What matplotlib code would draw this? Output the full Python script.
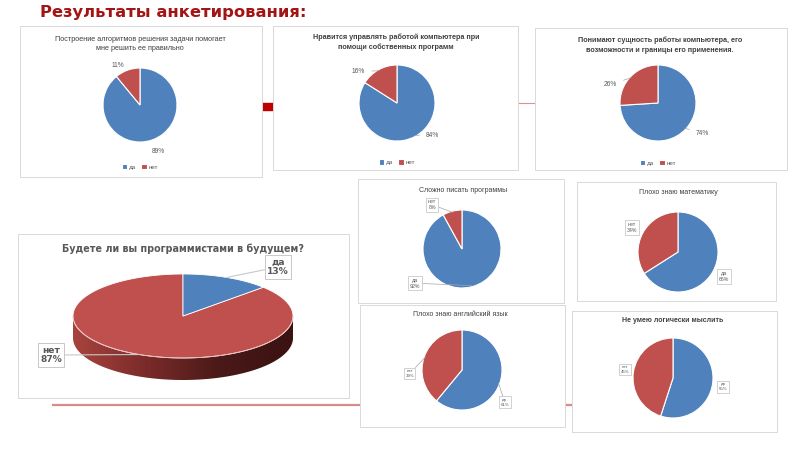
import numpy as np
import matplotlib.pyplot as plt
from matplotlib.patches import Rectangle, Polygon
from matplotlib.colors import LinearSegmentedColormap

plt.rcParams['font.family'] = ['Liberation Sans', 'DejaVu Sans']

# ---- data ----
answers = ['да', 'нет']
chart_titles = [
    'Построение алгоритмов решения задачи помогает\nмне решить ее правильно',
    'Нравится управлять работой компьютера при\nпомощи собственных программ',
    'Понимают сущность работы компьютера, его\nвозможности и границы его применения.',
    'Будете ли вы программистами в будущем?',
    'Сложно писать программы',
    'Плохо знаю математику',
    'Плохо знаю английский язык',
    'Не умею логически мыслить',
]
yes_pct = [89, 84, 74, 13, 92, 66, 61, 55]
no_pct = [11, 16, 26, 87, 8, 34, 39, 45]

# ---- layout (pixels, y down) ----
BLUE = '#4f81bd'
RED = '#c0504d'
GREY = '#595959'
W, H = 800, 450

panels = [(20, 26, 262, 177), (273, 26, 518, 170), (535, 28, 787, 170),
          (18, 234, 349, 398), (358, 179, 564, 303), (577, 182, 776, 301),
          (360, 305, 565, 427), (572, 311, 777, 432)]
pie_geo = [(140, 105, 37), (397, 103, 38), (658, 103, 38), (183, 316, 110),
           (462, 249, 39), (678, 252, 40), (462, 370, 40), (673, 378, 40)]
title_xy = [(140, 44), (396, 42), (660, 45), (183, 249),
            (463, 190), (678, 193), (460, 315), (673, 320)]
title_size = [5.2, 5.2, 5.2, 6.9, 5.0, 5.0, 5.0, 5.0]
# label polar position (angle deg, distance in radii) for да / нет
label_pos = [[(-69, 1.36), (119, 1.23)], [(-42, 1.27), (141, 1.31)],
             [(-34, 1.42), (159, 1.35)], None,
             [(216, 1.49), (124, 1.37)], [(-28, 1.31), (152, 1.30)],
             [(-37, 1.34), (184, 1.31)], [(-10, 1.27), (170, 1.22)]]
leaders = [False, True, True, True, True, False, True, False]
legend_y = [-0.34, -0.28, -0.29]

fig = plt.figure(figsize=(8, 4.5), dpi=100)
bg = fig.add_axes([0, 0, 1, 1])
bg.set_xlim(0, W)
bg.set_ylim(H, 0)
bg.axis('off')

# decorative lines of the slide
bg.add_patch(Rectangle((258, 103), 16, 7, color='#c00000', zorder=1))
bg.plot([518, 537], [103, 103], color='#e09090', lw=0.8, zorder=1)
bg.plot([53, 575], [405, 405], color='#d98a8a', lw=1.6, zorder=1)

bg.text(40, 12, 'Результаты анкетирования:', family='DejaVu Sans',
        fontweight='bold', fontsize=11.8, color='#a31515', va='center')

for (x0, y0, x1, y1) in panels:
    bg.add_patch(Rectangle((x0, y0), x1 - x0, y1 - y0, facecolor='white',
                           edgecolor='#d9d9d9', lw=0.7, zorder=2))

for i, t in enumerate(chart_titles):
    tx, ty = title_xy[i]
    if i == 3:
        bg.text(tx, ty, t, family='DejaVu Sans', fontweight='bold',
                fontsize=title_size[i], color=GREY, ha='center', va='center', zorder=5)
    else:
        bg.text(tx, ty, t, fontsize=title_size[i], color='#404040', ha='center',
                va='center', linespacing=1.5, zorder=5,
                fontweight='bold' if i in (1, 2, 7) else 'normal')

# ---- flat pies ----
for i in range(8):
    if i == 3:
        continue
    cx, cy, r = pie_geo[i]
    ax = fig.add_axes([(cx - r) / W, 1 - (cy + r) / H, 2 * r / W, 2 * r / H])
    vals = [yes_pct[i], no_pct[i]]
    wedges, _ = ax.pie(vals, colors=[BLUE, RED], startangle=90, counterclock=False,
                       radius=1, wedgeprops=dict(edgecolor='white', lw=0.8))
    ax.set_xlim(-1, 1)
    ax.set_ylim(-1, 1)
    ax.set_aspect('equal')
    ax.axis('off')
    for w, name, v, (ang, d) in zip(wedges, answers, vals, label_pos[i]):
        mid = np.deg2rad((w.theta1 + w.theta2) / 2)
        a = np.deg2rad(ang)
        if i < 3:
            txt = f'{v}%'
            kw = dict(fontsize=4.8, color=GREY)
        else:
            txt = f'{name}\n{v}%'
            kw = dict(fontsize=3.8 if i < 6 else 3.2, color=GREY, linespacing=1.3,
                      bbox=dict(boxstyle='square,pad=0.3', fc='white', ec='#bfbfbf', lw=0.5))
        if leaders[i]:
            ax.annotate(txt, xy=(np.cos(mid) * 0.97, np.sin(mid) * 0.97),
                        xytext=(d * np.cos(a), d * np.sin(a)), ha='center', va='center',
                        annotation_clip=False,
                        arrowprops=dict(arrowstyle='-', color='#a6a6a6', lw=0.5,
                                        shrinkA=3 if i < 3 else 0, shrinkB=0), **kw)
        else:
            ax.text(d * np.cos(a), d * np.sin(a), txt, ha='center', va='center',
                    clip_on=False, **kw)
    if i < 3:
        ax.legend(wedges, answers, loc='center', bbox_to_anchor=(0.5, legend_y[i]),
                  ncol=2, frameon=False, fontsize=4.5, labelcolor=GREY,
                  handlelength=0.9, handleheight=0.9, handletextpad=0.3,
                  columnspacing=0.8, borderpad=0)

# ---- 3D pie ----
cx, cy, a = pie_geo[3]
b, depth = 42, 22
total = yes_pct[3] + no_pct[3]
start = 90.0
span_yes = 360.0 * yes_pct[3] / total


def rim(t_deg, dy=0.0):
    t = np.deg2rad(t_deg)
    return np.column_stack([cx + a * np.cos(t), cy - b * np.sin(t) + dy])


# side wall (front half), gradient dark red
t_front = np.linspace(180, 360, 120)
side = np.vstack([rim(t_front), rim(t_front[::-1], depth)])
side_patch = Polygon(side, closed=True, facecolor='none', edgecolor='none', zorder=3)
bg.add_patch(side_patch)
cmap = LinearSegmentedColormap.from_list('side', ['#a8433f', '#7a2b29', '#4a1918', '#3a1312'])
grad = np.linspace(0, 1, 256).reshape(1, -1)
im = bg.imshow(grad, cmap=cmap, extent=(cx - a, cx + a, cy + b + depth, cy),
               aspect='auto', zorder=3)
im.set_clip_path(side_patch)
bg.set_xlim(0, W)
bg.set_ylim(H, 0)

# top face
t_yes = np.linspace(start, start - span_yes, 40)
t_no = np.linspace(start - span_yes, start - 360, 200)
bg.add_patch(Polygon(np.vstack([[cx, cy], rim(t_no)]), closed=True, facecolor=RED,
                     edgecolor='white', lw=0.6, zorder=4))
bg.add_patch(Polygon(np.vstack([[cx, cy], rim(t_yes)]), closed=True, facecolor=BLUE,
                     edgecolor='white', lw=0.6, zorder=4))
front = rim(t_front)
bg.plot(front[:, 0], front[:, 1], color='#e8b8b6', lw=0.6, zorder=4)

lab3d = [(278, 267), (51, 355)]
mids = [start - span_yes / 2, start - span_yes - (360 - span_yes) / 2]
for name, v, (lx, ly), m in zip(answers, [yes_pct[3], no_pct[3]], lab3d, mids):
    px, py = rim(m)[0]
    bg.annotate(f'{name}\n{v}%', xy=(px, py), xytext=(lx, ly), ha='center', va='center',
                family='DejaVu Sans', fontweight='bold', fontsize=6.6, color=GREY,
                linespacing=1.1, zorder=6,
                bbox=dict(boxstyle='square,pad=0.25', fc='white', ec='#bfbfbf', lw=0.6),
                arrowprops=dict(arrowstyle='-', color='#c8c8c8', lw=0.8, shrinkA=0, shrinkB=0))

fig.savefig('out.png', dpi=100)
